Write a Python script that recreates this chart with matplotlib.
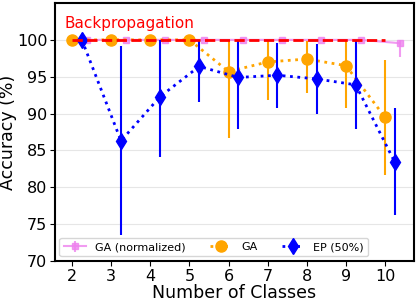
import matplotlib.pyplot as plt
import numpy as np

classes = np.array([2, 3, 4, 5, 6, 7, 8, 9, 10])

bp_acc = [100, 100, 100, 100, 100, 100, 100, 100, 100]

ga_norm = [100, 100, 100, 100, 100, 100, 100, 100, 99.55]
ga_norm_lo = [100, 100, 100, 100, 100, 100, 100, 100, 97.7]
ga_norm_hi = [100, 100, 100, 100, 100, 100, 100, 100, 100]

ga_acc = [100, 100, 100, 100, 95.7, 97.0, 97.4, 96.5, 89.5]
ga_lo = [100, 100, 100, 100, 86.7, 91.9, 92.8, 90.8, 81.7]
ga_hi = [100, 100, 100, 100, 100, 99.9, 99.9, 99.9, 97.3]

ep_acc = [100, 86.3, 92.3, 96.4, 94.9, 95.2, 94.7, 93.9, 83.4]
ep_lo = [100, 73.5, 84.1, 91.6, 87.9, 90.8, 89.9, 87.9, 76.2]
ep_hi = [100, 99.1, 100, 100, 100, 99.6, 99.4, 100, 90.8]


def err(mid, lo, hi):
    mid = np.array(mid)
    return [mid - np.array(lo), np.array(hi) - mid]


fig, ax = plt.subplots(figsize=(4.19, 3.02), dpi=100)
fig.subplots_adjust(left=0.131, right=0.988, bottom=0.136, top=0.99)

ax.grid(axis='y', color='#e6e6e6', linewidth=0.8)
ax.set_axisbelow(True)

ax.errorbar(classes + 0.375, ga_norm, yerr=err(ga_norm, ga_norm_lo, ga_norm_hi),
            color='violet', marker='s', ms=5, lw=1.5, elinewidth=1.5, alpha=0.8,
            label='GA (normalized)', zorder=2)
ax.errorbar(classes, ga_acc, yerr=err(ga_acc, ga_lo, ga_hi),
            color='orange', marker='o', ms=8, ls=':', lw=2, elinewidth=1.5,
            label='GA', zorder=3)
ax.errorbar(classes + 0.25, ep_acc, yerr=err(ep_acc, ep_lo, ep_hi),
            color='blue', marker='d', ms=8, ls=':', lw=2, elinewidth=1.5,
            label='EP (50%)', zorder=4)
ax.plot(classes, bp_acc, 'r--', lw=2, zorder=5)
ax.text(1.8, 102.2, 'Backpropagation', color='red', fontsize=11, va='center')

ax.set_xlim(1.56, 10.74)
ax.set_ylim(70, 105)
ax.set_xticks(classes)
ax.set_yticks([70, 75, 80, 85, 90, 95, 100])
ax.tick_params(labelsize=11.5, pad=2)
ax.set_xlabel('Number of Classes', fontsize=12.5, labelpad=0)
ax.set_ylabel('Accuracy (%)', fontsize=12.5, labelpad=0)
for s in ax.spines.values():
    s.set_linewidth(1.5)

ax.legend(loc='lower left', ncol=3, fontsize=8, borderaxespad=0.4,
          columnspacing=2.2)

plt.savefig('out.png')
